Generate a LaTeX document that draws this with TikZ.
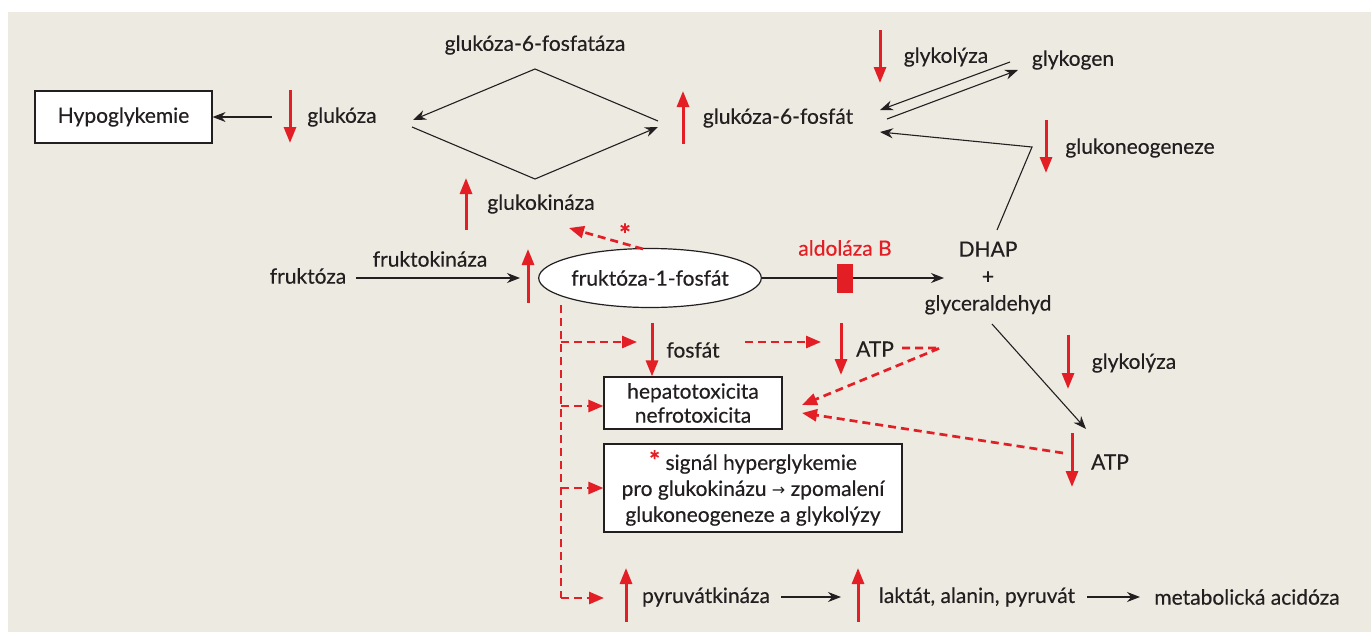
\documentclass[tikz,border=0pt]{standalone}
\usepackage{fontspec}
\setmainfont{Lato}[FakeBold=0.35]
\newfontfamily\djv{DejaVu Sans}
\usetikzlibrary{arrows.meta,shapes.geometric}
\definecolor{bg}{RGB}{237,234,226}
\definecolor{rd}{RGB}{227,30,36}
\definecolor{ink}{RGB}{35,31,32}
\begin{document}
\begin{tikzpicture}[x=1pt,y=-1pt,
  txt/.style={inner sep=0pt, font=\fontsize{21}{25}\selectfont, text=ink, align=center},
  box/.style={txt, draw=ink, line width=1.2pt, fill=white},
  blk/.style={draw=ink, line width=1.1pt, -{Stealth[length=13pt,width=10pt]}},
  rarr/.style={draw=rd, line width=3pt, -{Triangle[length=16pt,width=12pt]}},
  rdash/.style={draw=rd, line width=2.7pt, dash pattern=on 8pt off 5pt, -{Triangle[length=15pt,width=12pt]}},
  rdashline/.style={draw=rd, line width=2.7pt, dash pattern=on 8pt off 5pt},
]
\useasboundingbox (0,0) rectangle (1371,632);
\fill[white] (0,0) rectangle (1371,632);
\fill[bg] (8,12) rectangle (1371,632);

% --- top part
\node[box, minimum width=177, minimum height=52] (hypo) at (123.5,117) {Hypoglykemie};
\node[txt] (glc) at (342,117) {glukóza};
\node[txt] (g6pase) at (535,45) {glukóza-6-fosfatáza};
\node[txt] (g6p) at (778,118) {glukóza-6-fosfát};
\node[txt] (glyk1) at (946,57) {glykolýza};
\node[txt] (glykogen) at (1073,60) {glykogen};
\node[txt] (gng) at (1140,148) {glukoneogeneze};
\node[txt] (gk) at (541,204) {glukokináza};

\coordinate (glcout) at (272,117);
\draw[blk] (glcout) -- (hypo.east);
\coordinate (dR1) at (658,121);
\coordinate (dT) at (535,69);
\coordinate (dL1) at (413,120);
\coordinate (dL2) at (412,127);
\coordinate (dB) at (535,179);
\coordinate (dR2) at (658,127);
\draw[blk] (dR1) -- (dT) -- (dL1);
\draw[blk] (dL2) -- (dB) -- (dR2);

\coordinate (gA) at (1010,62);
\coordinate (gB) at (880,110);
\coordinate (gC) at (887,119);
\coordinate (gD) at (1018,70);
\draw[blk] (gA) -- (gB);
\draw[blk] (gC) -- (gD);

% red indicators top
\draw[rarr] (290,90) -- (290,143);
\draw[rarr] (683,144) -- (683,91);
\draw[rarr] (880,30) -- (880,83);
\draw[rarr] (1046,120) -- (1046,173);
\draw[rarr] (466,230) -- (466,178);

% --- middle row
\node[txt] (fru) at (308,276) {fruktóza};
\node[txt] (fk) at (430,259) {fruktokináza};
\node[txt, ellipse, draw=ink, line width=1.2pt, fill=white, minimum width=217, minimum height=59, inner sep=0pt] (f1p) at (650,278) {fruktóza-1-fosfát};
\node[txt, font=\fontsize{21}{27}\selectfont] (dhap) at (988,278) {DHAP\\+\\glyceraldehyd};
\node[txt, text=rd] (aldb) at (845,248) {aldoláza B};
\node[txt, text=rd, font=\fontsize{28}{28}\selectfont\bfseries] (star) at (625,234) {*};

\coordinate (fruout) at (356,278);
\coordinate (f1pin) at (520,278);
\draw[blk] (fruout) -- (f1pin);
\draw[rarr] (528,303) -- (528,249);
\coordinate (dhapin) at (944,278);
\draw[blk] (f1p.east) -- (dhapin);
\fill[rd] (837,264) rectangle (853,293);
\coordinate (dhapup) at (997,230);
\coordinate (bend) at (1032,147);
\coordinate (g6pin) at (880,132);
\draw[blk] (dhapup) -- (bend) -- (g6pin);
\coordinate (gkin) at (569,228);
\draw[rdash] (643,249) -- (gkin);

% --- lower part
\node[txt] (fosfat) at (693,350) {fosfát};
\node[txt] (atp1) at (875,349) {ATP};
\node[box, minimum width=178, minimum height=52, font=\fontsize{21}{24}\selectfont] (hep) at (693,403) {hepatotoxicita\\nefrotoxicita};
\node[box, minimum width=298, minimum height=88, font=\fontsize{21}{26}\selectfont] (sig) at (753,488) {{\color{rd}\fontsize{26}{26}\selectfont\bfseries *}\ signál hyperglykemie\\pro glukokinázu {\djv\fontsize{16}{16}\selectfont →} zpomalení\\glukoneogeneze a glykolýzy};
\node[txt] (glyk2) at (1134,363) {glykolýza};
\node[txt] (atp2) at (1110,462) {ATP};

\draw[rarr] (652,323) -- (hep.north -| 652,0);
\draw[rarr] (841,323) -- (841,375);
\draw[rarr] (1068,335) -- (1068,389);
\draw[rarr] (1072,433) -- (1072,487);

\coordinate (vtop) at (561,305);
\coordinate (vbot) at (561,598);
\draw[rdashline] (vtop) -- (vbot);
\draw[rdash] (561,342) -- (637,342);
\draw[rdash] (561,406) -- (hep.west |- 0,406);
\draw[rdash] (561,488) -- (sig.west);
\draw[rdash] (vbot) -- (604,598);
\draw[rdash] (745,342) -- (821,342);
\coordinate (atpk) at (940,348);
\draw[rdash] (902,348) -- (atpk) -- (802,405);
\draw[rdash] (1063,453) -- (802,413);

\coordinate (glyout) at (992,324);
\coordinate (atpin) at (1086,429);
\draw[blk] (glyout) -- (atpin);

% bottom row
\node[txt] (pk) at (706,597) {pyruvátkináza};
\node[txt] (lak) at (977,597) {laktát, alanin, pyruvát};
\node[txt] (acid) at (1247,597) {metabolická acidóza};
\draw[rarr] (626,622) -- (626,568);
\draw[rarr] (858,622) -- (858,568);
\coordinate (pkout) at (781,597);
\coordinate (lakin) at (841,597);
\coordinate (lakout) at (1087,597);
\coordinate (acidin) at (1140,597);
\draw[blk] (pkout) -- (lakin);
\draw[blk] (lakout) -- (acidin);
\end{tikzpicture}
\end{document}
